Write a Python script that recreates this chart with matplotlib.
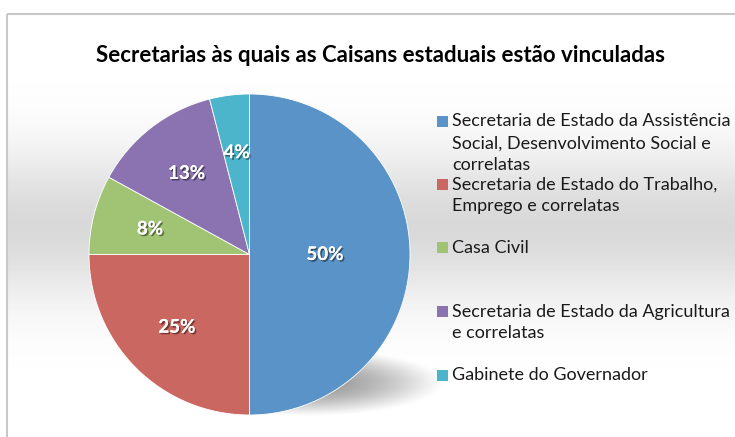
import numpy as np
import matplotlib.pyplot as plt
import matplotlib.patheffects as pe
from matplotlib.patches import Rectangle

# data
categories = [
    "Secretaria de Estado da Assistência\nSocial, Desenvolvimento Social e\ncorrelatas",
    "Secretaria de Estado do Trabalho,\nEmprego e correlatas",
    "Casa Civil",
    "Secretaria de Estado da Agricultura\ne correlatas",
    "Gabinete do Governador",
]
shares = [50, 25, 8, 13, 4]
pct_labels = ["50%", "25%", "8%", "13%", "4%"]
colors = ["#5a93c7", "#cb6761", "#a0c474", "#8a73b0", "#4db5cb"]
title = "Secretarias às quais as Caisans estaduais estão vinculadas"

W, H = 735, 437
plt.rcParams['font.family'] = ['Lato', 'DejaVu Sans']

fig = plt.figure(figsize=(W / 100, H / 100), dpi=100)

# background: soft gray band plus the pie's drop shadow
bg = fig.add_axes([0, 0, 1, 1])
yy, xx = np.mgrid[0:H, 0:W]
img = 1 - 0.15 * np.exp(-((yy - 225) / 75.0) ** 2)
d2 = ((xx - 305) / 140.0) ** 2 + ((yy - 382) / 34.0) ** 2
img = img - 0.40 * np.clip(1 - d2, 0, 1) ** 1.3
img[yy < 14] = 1.0
img[xx < 8] = 1.0
bg.imshow(img, cmap='gray', vmin=0, vmax=1, extent=(0, W, H, 0), aspect='auto')
bg.add_patch(Rectangle((7.5, 13.5), W, H, fill=False, edgecolor='#c8c8c8', lw=1.5))
bg.set_xlim(0, W)
bg.set_ylim(H, 0)
bg.axis('off')

# pie
cx, cy, r = 249.5, 254.5, 160.5
ax = fig.add_axes([(cx - r) / W, (H - cy - r) / H, 2 * r / W, 2 * r / H])
wedges, _ = ax.pie(shares, colors=colors, startangle=90, counterclock=False,
                   wedgeprops=dict(edgecolor='white', linewidth=0.6))
ax.set_xlim(-1, 1)
ax.set_ylim(-1, 1)
ax.set_aspect('equal')
ax.axis('off')

shadow = [pe.withSimplePatchShadow(offset=(1.2, -1.2), shadow_rgbFace='black', alpha=0.45),
          pe.Normal()]
for w, lab in zip(wedges, pct_labels):
    mid = np.deg2rad((w.theta1 + w.theta2) / 2)
    dist = 0.47 if lab == "50%" else 0.64
    ax.text(dist * np.cos(mid), dist * np.sin(mid), lab, ha='center', va='center',
            color='white', fontsize=13.5, fontweight='bold', path_effects=shadow)

fig.text(381 / W, 1 - 55 / H, title, ha='center', va='center',
         fontsize=16, fontweight='bold', color='black')

# legend
first_y = [121.5, 184.3, 247.7, 311.7, 375]
for lab, col, y0 in zip(categories, colors, first_y):
    bg.add_patch(Rectangle((437.5, y0 - 5.5), 11, 11, facecolor=col, edgecolor='none'))
    for i, line in enumerate(lab.split("\n")):
        bg.text(452.5, y0 + i * 21.8, line, ha='left', va='center',
                fontsize=13, color='#1a1a1a')

fig.savefig("out.png", dpi=100)
